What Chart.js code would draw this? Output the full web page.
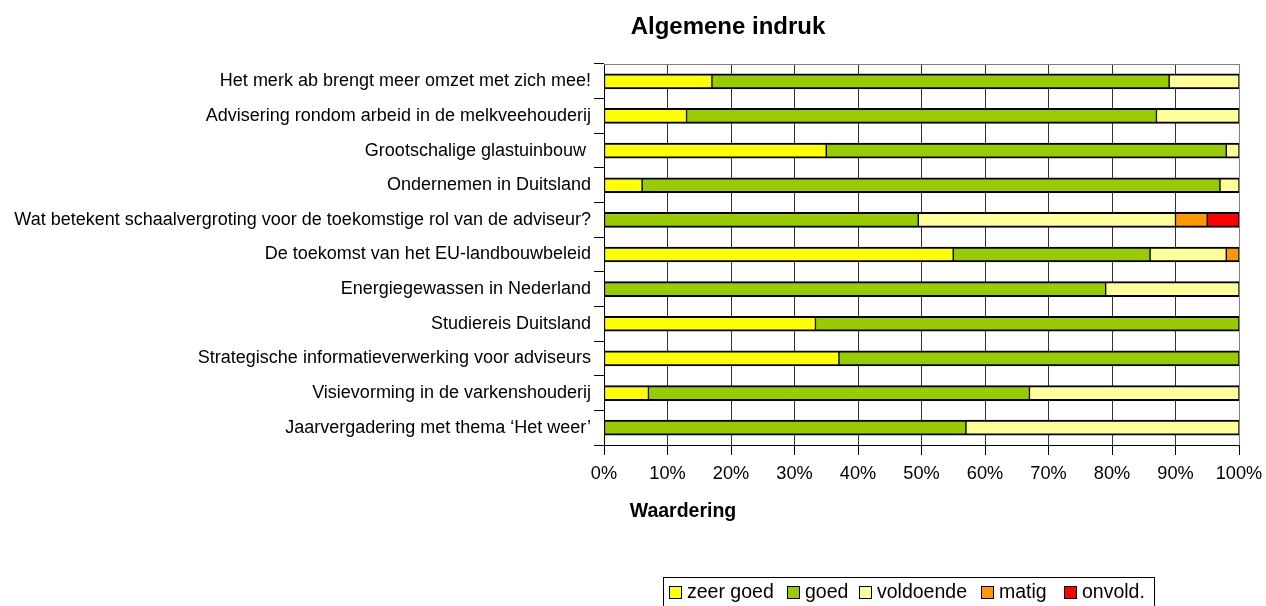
<!DOCTYPE html>
<html>
<head>
<meta charset="utf-8">
<title>Algemene indruk</title>
<script src="https://cdn.jsdelivr.net/npm/chart.js@4/dist/chart.umd.min.js"></script>
<style>
  body { margin: 0; background: #fff; }
  #wrap { width: 1266px; height: 606px; }
</style>
</head>
<body>
<div id="wrap"><canvas id="chart" width="1266" height="606"></canvas></div>
<script>
//! Data van de grafiek (van boven naar beneden)
const categories = [
  "Het merk ab brengt meer omzet met zich mee!",
  "Advisering rondom arbeid in de melkveehouderij",
  "Grootschalige glastuinbouw ",
  "Ondernemen in Duitsland",
  "Wat betekent schaalvergroting voor de toekomstige rol van de adviseur?",
  "De toekomst van het EU-landbouwbeleid",
  "Energiegewassen in Nederland",
  "Studiereis Duitsland",
  "Strategische informatieverwerking voor adviseurs",
  "Visievorming in de varkenshouderij",
  "Jaarvergadering met thema \u2018Het weer\u2019",
];

const zeerGoed  = [17, 13, 35, 6, 0, 55, 0, 33.3, 37, 7, 0];
const goed      = [72, 74, 63, 91, 49.5, 31, 79, 66.7, 63, 60, 57];
const voldoende = [11, 13, 2, 3, 40.5, 12, 21, 0, 0, 33, 43];
const matig     = [0, 0, 0, 0, 5, 2, 0, 0, 0, 0, 0];
const onvold    = [0, 0, 0, 0, 5, 0, 0, 0, 0, 0, 0];

const seriesLabels = ["zeer goed", "goed", "voldoende", "matig", "onvold."];
const xTicks = [0, 10, 20, 30, 40, 50, 60, 70, 80, 90, 100];

const colors = ["#ffff00", "#99cc00", "#ffff99", "#ff9900", "#ff0000"];
const FONT = "'Liberation Sans', Arial, sans-serif";

// bouwt een dataset voor een reeks
function serie(label, data, i) {
  return {
    label: label,
    data: data,
    backgroundColor: colors[i],
    borderColor: "#000",
    borderWidth: { top: 2, bottom: 2, left: 1, right: 1 },
    borderSkipped: false,
    barThickness: 15,
  };
}

//! Titel, as-titel, kader en legenda tekenen we zelf
const extras = {
  id: "extras",
  beforeDatasetsDraw(chart) {
    const { ctx, chartArea } = chart;
    ctx.save();
    ctx.strokeStyle = "#808080";
    ctx.lineWidth = 1;
    ctx.beginPath();
    ctx.moveTo(chartArea.left, Math.round(chartArea.top) + 0.5);
    ctx.lineTo(chartArea.right, Math.round(chartArea.top) + 0.5);
    ctx.stroke();
    ctx.restore();
  },
  afterDraw(chart) {
    const ctx = chart.ctx;
    ctx.save();
    ctx.fillStyle = "#000";
    ctx.textAlign = "center";
    ctx.textBaseline = "middle";
    ctx.font = "bold 24px " + FONT;
    ctx.fillText("Algemene indruk", 728, 27);
    ctx.font = "bold 19.5px " + FONT;
    ctx.fillText("Waardering", 683, 512);

    // legenda met kader
    ctx.strokeStyle = "#000";
    ctx.lineWidth = 1;
    ctx.strokeRect(663.5, 577.5, 491, 40);
    const xs = [669, 787, 859, 981, 1064];
    ctx.font = "19.5px " + FONT;
    ctx.textAlign = "left";
    seriesLabels.forEach((label, i) => {
      ctx.fillStyle = colors[i];
      ctx.fillRect(xs[i] + 0.5, 586.5, 12, 12);
      ctx.strokeRect(xs[i] + 0.5, 586.5, 12, 12);
      ctx.fillStyle = "#000";
      ctx.fillText(label, xs[i] + 18, 593);
    });
    ctx.restore();
  },
};

new Chart(document.getElementById("chart"), {
  type: "bar",
  data: {
    labels: categories,
    datasets: [
      serie(seriesLabels[0], zeerGoed, 0),
      serie(seriesLabels[1], goed, 1),
      serie(seriesLabels[2], voldoende, 2),
      serie(seriesLabels[3], matig, 3),
      serie(seriesLabels[4], onvold, 4),
    ],
  },
  options: {
    indexAxis: "y",
    responsive: false,
    animation: false,
    layout: { padding: { top: 64, right: 27, left: 0, bottom: 120 } },
    plugins: {
      legend: { display: false },
      tooltip: { enabled: false },
    },
    scales: {
      x: {
        stacked: true,
        min: 0,
        max: 100,
        afterFit: (scale) => {
          scale.height = 41;
          scale.paddingLeft = 0;
          scale.paddingRight = 0;
        },
        afterBuildTicks: (scale) => { scale.ticks = xTicks.map((v) => ({ value: v })); },
        ticks: {
          color: "#000",
          padding: 8,
          font: { family: FONT, size: 18.2 },
          callback: (v) => v + "%",
        },
        grid: {
          color: (c) => (c.tick && c.tick.value === 100 ? "#808080" : "#333"),
          tickColor: "#000",
          tickLength: 10,
          lineWidth: 1,
        },
        border: { color: "#000", width: 1 },
      },
      y: {
        stacked: true,
        afterFit: (scale) => { scale.width = 604; },
        ticks: {
          color: "#000",
          padding: 3,
          autoSkip: false,
          font: { family: FONT, size: 18 },
        },
        grid: {
          offset: true,
          drawOnChartArea: false,
          tickColor: "#000",
          tickLength: 10,
        },
        border: { color: "#000", width: 1 },
      },
    },
  },
  plugins: [extras],
});
</script>
</body>
</html>
